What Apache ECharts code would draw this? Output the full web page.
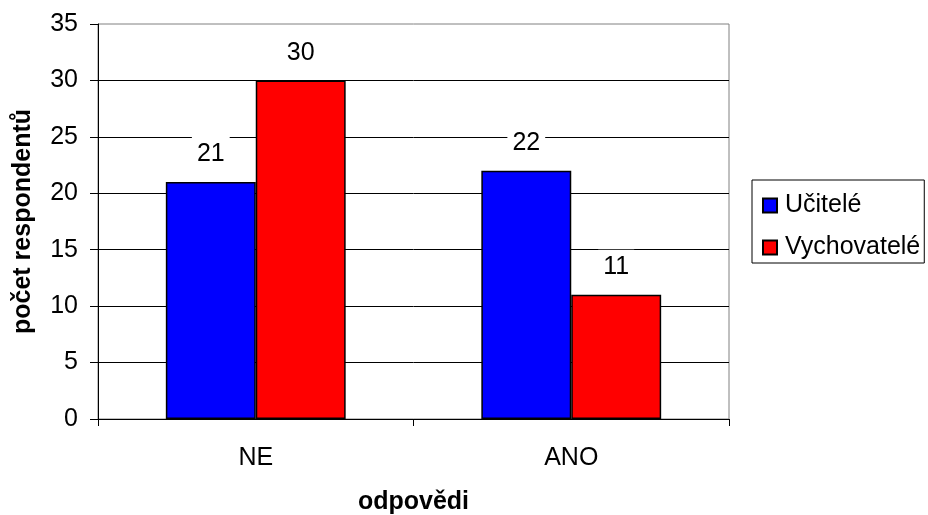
<!DOCTYPE html>
<html>
<head>
<meta charset="utf-8">
<script src="https://cdn.jsdelivr.net/npm/echarts@6/dist/echarts.min.js"></script>
<style>
html,body{margin:0;padding:0;background:#fff;}
#chart{width:928px;height:515px;}
</style>
</head>
<body>
<div id="chart"></div>
<script>
var categories = ['NE', 'ANO'];
var seriesNames = ['Učitelé', 'Vychovatelé'];
var ucitele = [21, 22];
var vychovatele = [30, 11];
var yTicks = {min: 0, max: 35, interval: 5};

var FONT = '"Liberation Sans", Arial, sans-serif';
var chart = echarts.init(document.getElementById('chart'), null, {renderer: 'canvas'});

var labelStyle = {
  show: true,
  position: 'top',
  distance: 10,
  fontFamily: FONT,
  fontSize: 25,
  lineHeight: 25,
  color: '#000',
  backgroundColor: '#fff',
  padding: [5, 5]
};

chart.setOption({
  backgroundColor: '#fff',
  animation: false,
  textStyle: {fontFamily: FONT},
  grid: {
    left: 98, top: 24, right: 199, bottom: 96,
    outerBoundsMode: 'none',
    containLabel: false,
    show: true, borderColor: '#808080', borderWidth: 1, backgroundColor: 'transparent'
  },
  legend: {
    orient: 'vertical',
    left: 752, top: 180,
    padding: [13, 4, 3, 10],
    borderColor: '#000', borderWidth: 1,
    itemWidth: 14, itemHeight: 14, itemGap: 17,
    icon: 'rect',
    textStyle: {fontFamily: FONT, fontSize: 25, lineHeight: 25, color: '#000', padding: [0, 0, 0, 3]},
    data: seriesNames
  },
  xAxis: {
    type: 'category',
    data: categories,
    name: 'odpovědi',
    nameLocation: 'middle',
    nameGap: 71,
    nameTextStyle: {fontFamily: FONT, fontSize: 25, fontWeight: 'bold', color: '#000'},
    axisLine: {lineStyle: {color: '#000', width: 1}},
    axisTick: {show: true, length: 7, lineStyle: {color: '#000'}},
    axisLabel: {fontFamily: FONT, fontSize: 25, color: '#000', margin: 27}
  },
  yAxis: {
    type: 'value',
    min: yTicks.min, max: yTicks.max, interval: yTicks.interval,
    name: 'počet respondentů',
    nameLocation: 'middle',
    nameRotate: 90,
    nameGap: 62,
    nameTextStyle: {fontFamily: FONT, fontSize: 25, fontWeight: 'bold', color: '#000'},
    axisLine: {show: true, lineStyle: {color: '#000', width: 1}},
    axisTick: {show: true, length: 8, lineStyle: {color: '#000'}},
    axisLabel: {fontFamily: FONT, fontSize: 25, color: '#000', margin: 20},
    splitLine: {show: true, showMaxLine: false, lineStyle: {color: '#000', width: 1}}
  },
  series: [
    {
      name: seriesNames[0], type: 'bar', data: ucitele,
      barGap: '0%', barCategoryGap: '43%',
      itemStyle: {color: '#0000ff', borderColor: '#000', borderWidth: 1.5},
      label: labelStyle
    },
    {
      name: seriesNames[1], type: 'bar', data: vychovatele,
      itemStyle: {color: '#ff0000', borderColor: '#000', borderWidth: 1.5},
      label: labelStyle
    }
  ]
});
</script>
</body>
</html>
